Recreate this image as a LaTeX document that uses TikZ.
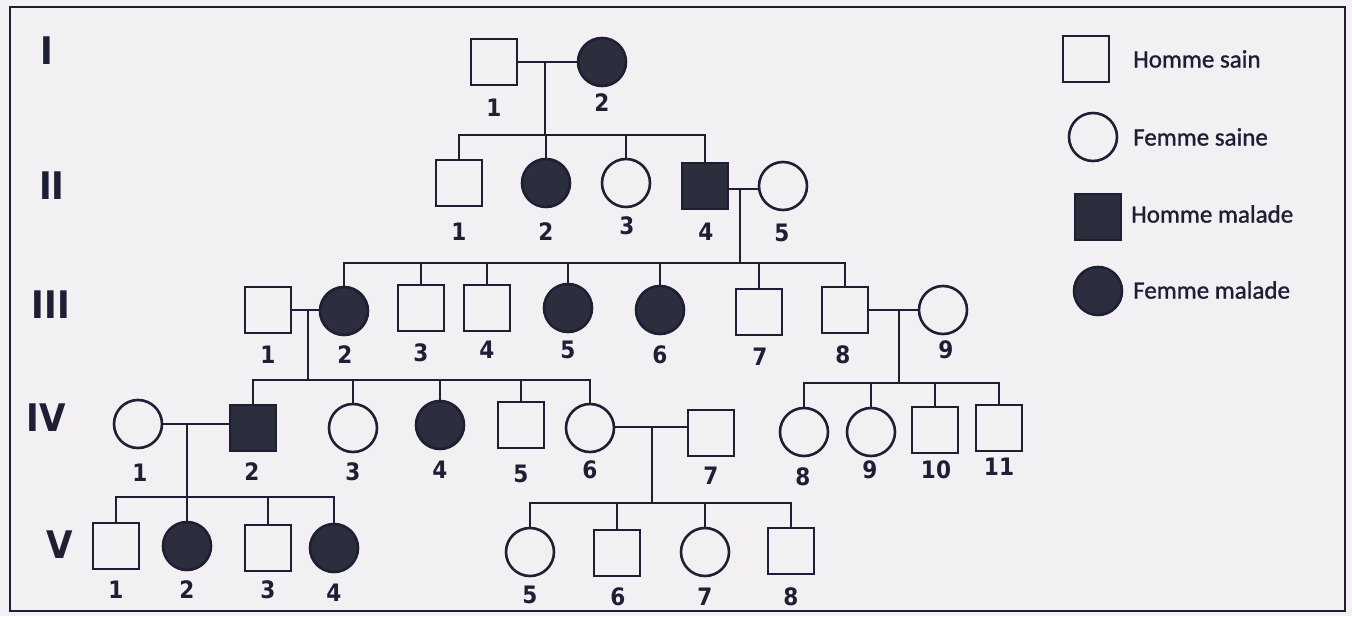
\documentclass[tikz,border=0pt]{standalone}
\usepackage{fontspec}
\newfontfamily\numfont{DejaVu Sans Condensed}
\newfontfamily\legfont[FakeBold=1.2]{Carlito}
\definecolor{ink}{HTML}{1E1F35}
\definecolor{fillc}{HTML}{2C2D3D}
\definecolor{paper}{HTML}{F2F0F2}
\begin{document}
\begin{tikzpicture}[x=1pt,y=-1pt,
  link/.style={draw=ink,line width=2.8pt},
  sq/.style={rectangle,draw=ink,line width=2.6pt,minimum size=46pt,inner sep=0pt},
  ci/.style={circle,draw=ink,line width=2.6pt,minimum size=48pt,inner sep=0pt},
  aff/.style={fill=fillc},
  lbl/.style={font=\numfont\bfseries\fontsize{24}{28}\selectfont,text=ink,inner sep=0pt},
  gen/.style={font=\numfont\bfseries\fontsize{38}{40}\selectfont,text=ink,inner sep=0pt},
  leg/.style={font=\legfont\fontsize{25}{28}\selectfont,text=ink,inner sep=0pt,anchor=west}]
\fill[paper] (0,0) rectangle (1352,616);
\useasboundingbox (0,0) rectangle (1352,616);
\draw[ink,line width=2.8pt] (10,7) rectangle (1345,611);
% generation labels
\node[gen] (gI) at (47,51) {I};
\node[gen] (gII) at (52,186) {II};
\node[gen] (gIII) at (51,305) {III};
\node[gen] (gIV) at (46,418) {IV};
\node[gen] (gV) at (60,545) {V};
% Generation I
\node[sq] (I1) at (494,62) {};
\node[ci,aff] (I2) at (602,62) {};
\node[lbl] (lI1) at (494,108) {1};
\node[lbl] (lI2) at (602,103) {2};
% Generation II
\node[sq] (II1) at (459,183) {};
\node[ci,aff] (II2) at (546,183) {};
\node[ci] (II3) at (626,183) {};
\node[sq,aff] (II4) at (705,186) {};
\node[ci] (II5) at (783,186) {};
\node[lbl] (lII1) at (459,232) {1};
\node[lbl] (lII2) at (546,232) {2};
\node[lbl] (lII3) at (627,226) {3};
\node[lbl] (lII4) at (706,232) {4};
\node[lbl] (lII5) at (782,233) {5};
% Generation III
\node[sq] (III1) at (268,310) {};
\node[ci,aff] (III2) at (344,311) {};
\node[sq] (III3) at (421,308) {};
\node[sq] (III4) at (487,308) {};
\node[ci,aff] (III5) at (568,308) {};
\node[ci,aff] (III6) at (660,310) {};
\node[sq] (III7) at (759,312) {};
\node[sq] (III8) at (845,310) {};
\node[ci] (III9) at (943,310) {};
\node[lbl] (lIII1) at (268,355) {1};
\node[lbl] (lIII2) at (345,355) {2};
\node[lbl] (lIII3) at (421,353) {3};
\node[lbl] (lIII4) at (487,350) {4};
\node[lbl] (lIII5) at (568,350) {5};
\node[lbl] (lIII6) at (660,355) {6};
\node[lbl] (lIII7) at (760,357) {7};
\node[lbl] (lIII8) at (843,355) {8};
\node[lbl] (lIII9) at (946,350) {9};
% Generation IV
\node[ci] (IV1) at (138,424) {};
\node[sq,aff] (IV2) at (253,428) {};
\node[ci] (IV3) at (353,428) {};
\node[ci,aff] (IV4) at (440,425) {};
\node[sq] (IV5) at (521,425) {};
\node[ci] (IV6) at (590,428) {};
\node[sq] (IV7) at (711,433) {};
\node[ci] (IV8) at (804,432) {};
\node[ci] (IV9) at (871,432) {};
\node[sq] (IV10) at (935,430) {};
\node[sq] (IV11) at (999,428) {};
\node[lbl] (lIV1) at (140,473) {1};
\node[lbl] (lIV2) at (252,472) {2};
\node[lbl] (lIV3) at (353,472) {3};
\node[lbl] (lIV4) at (440,470) {4};
\node[lbl] (lIV5) at (521,474) {5};
\node[lbl] (lIV6) at (590,470) {6};
\node[lbl] (lIV7) at (711,476) {7};
\node[lbl] (lIV8) at (803,477) {8};
\node[lbl] (lIV9) at (870,470) {9};
\node[lbl] (lIV10) at (936,470) {10};
\node[lbl] (lIV11) at (999,467) {11};
% Generation V
\node[sq] (V1) at (116,546) {};
\node[ci,aff] (V2) at (187,546) {};
\node[sq] (V3) at (268,548) {};
\node[ci,aff] (V4) at (334,548) {};
\node[ci] (V5) at (530,552) {};
\node[sq] (V6) at (617,553) {};
\node[ci] (V7) at (705,552) {};
\node[sq] (V8) at (791,551) {};
\node[lbl] (lV1) at (116,590) {1};
\node[lbl] (lV2) at (187,590) {2};
\node[lbl] (lV3) at (268,590) {3};
\node[lbl] (lV4) at (334,593) {4};
\node[lbl] (lV5) at (530,595) {5};
\node[lbl] (lV6) at (618,597) {6};
\node[lbl] (lV7) at (705,597) {7};
\node[lbl] (lV8) at (791,597) {8};
% couples and descent
\coordinate (mI) at (545,62);   \coordinate (sI) at (545,135);
\coordinate (mII) at (740,189); \coordinate (sII) at (740,263);
\coordinate (mIIIa) at (308,310); \coordinate (sIIIa) at (308,380);
\coordinate (mIIIb) at (899,310); \coordinate (sIIIb) at (899,383);
\coordinate (mIVa) at (187,424); \coordinate (sIVa) at (187,497);
\coordinate (mIVb) at (652,427); \coordinate (sIVb) at (652,503);
\draw[link] (I1.east |- mI) -- (I2.west |- mI);
\draw[link] (mI) -- (sI);
\draw[link] (II4.east |- mII) -- (II5.west |- mII);
\draw[link] (mII) -- (sII);
\draw[link] (III1.east |- mIIIa) -- (III2.west |- mIIIa);
\draw[link] (mIIIa) -- (sIIIa);
\draw[link] (III8.east |- mIIIb) -- (III9.west |- mIIIb);
\draw[link] (mIIIb) -- (sIIIb);
\draw[link] (IV1.east |- mIVa) -- (IV2.west |- mIVa);
\draw[link] (mIVa) -- (sIVa);
\draw[link] (IV6.east |- mIVb) -- (IV7.west |- mIVb);
\draw[link] (mIVb) -- (sIVb);
% sibships
\foreach \c in {II1,II2,II3,II4} \draw[link] (\c.north) |- (sI);
\foreach \c in {III2,III3,III4,III5,III6,III7,III8} \draw[link] (\c.north) |- (sII);
\foreach \c in {IV2,IV3,IV4,IV5,IV6} \draw[link] (\c.north) |- (sIIIa);
\foreach \c in {IV8,IV9,IV10,IV11} \draw[link] (\c.north) |- (sIIIb);
\foreach \c in {V1,V2,V3,V4} \draw[link] (\c.north) |- (sIVa);
\foreach \c in {V5,V6,V7,V8} \draw[link] (\c.north) |- (sIVb);
% legend
\node[sq] (k1) at (1086,59) {};
\node[ci] (k2) at (1093,137) {};
\node[sq,aff] (k3) at (1098,217) {};
\node[ci,aff] (k4) at (1098,291) {};
\node[leg] (t1) at (1133,59) {Homme sain};
\node[leg] (t2) at (1133,137) {Femme saine};
\node[leg] (t3) at (1131,214) {Homme malade};
\node[leg] (t4) at (1133,290) {Femme malade};
\end{tikzpicture}
\end{document}
